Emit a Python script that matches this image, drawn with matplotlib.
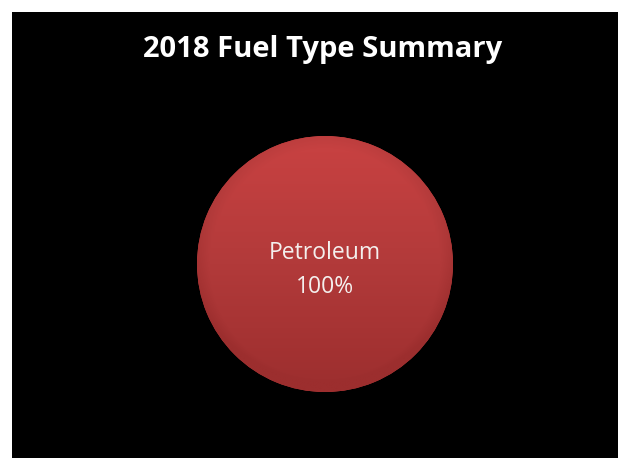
import numpy as np
import matplotlib.pyplot as plt
from matplotlib.colors import LinearSegmentedColormap

# 数据
labels = ['Petroleum']
shares = [100]
title = '2018 Fuel Type Summary'

fig = plt.figure(figsize=(6.18, 4.58), dpi=100)
fig.patch.set_facecolor('white')

# 黑色背景区域
bg = fig.add_axes([12 / 618, 0, 606 / 618, 446 / 458])
bg.set_facecolor('black')
bg.set_xticks([])
bg.set_yticks([])
for s in bg.spines.values():
    s.set_visible(False)

fig.text(323 / 618, 1 - 49 / 458, title, color='white', fontsize=21,
         fontweight='bold', family='Open Sans', ha='center', va='center')

# 饼图
ax = fig.add_axes([(325 - 128) / 618, (458 - 264 - 128) / 458, 256 / 618, 256 / 458])
ax.set_facecolor('none')
wedges, _ = ax.pie(shares, colors=['#bb3a3a'], startangle=90, radius=1.0,
                   wedgeprops=dict(linewidth=0))
ax.set_xlim(-1, 1)
ax.set_ylim(-1, 1)
ax.set_aspect('equal')
ax.axis('off')

# 渐变填充
cmap = LinearSegmentedColormap.from_list('red', ['#9c2e2e', '#b23a3a', '#c94242'])
yy, xx = np.mgrid[-1:1:400j, -1:1:400j]
r = np.sqrt(xx ** 2 + yy ** 2)
shade = (yy + 1) / 2
shade = shade - 0.25 * np.clip((r - 0.9) / 0.1, 0, 1)
im = ax.imshow(shade, extent=[-1, 1, -1, 1], origin='lower', cmap=cmap,
               vmin=0, vmax=1, zorder=2)
im.set_clip_path(wedges[0])

for w, lab, v in zip(wedges, labels, shares):
    ax.text(0, -0.05, f'{lab}\n{v}%', color='#f4f0ee', fontsize=16.5,
            family='Open Sans', ha='center', va='center', linespacing=1.55,
            zorder=3)

plt.savefig('out.png', dpi=100, facecolor=fig.get_facecolor())
